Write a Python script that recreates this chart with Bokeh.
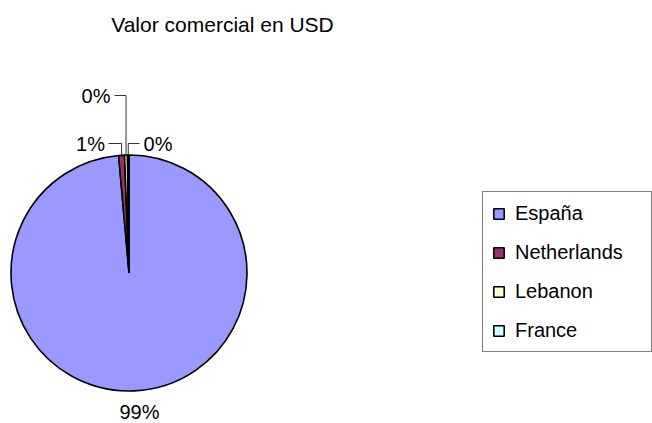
import math
from bokeh.plotting import figure
from bokeh.models import Range1d, ColumnDataSource, Legend, LegendItem
from bokeh.core.properties import value
from bokeh.embed import file_html
from bokeh.resources import INLINE

# ---- data ----
title = "Valor comercial en USD"
countries = ["España", "Netherlands", "Lebanon", "France"]
shares = [98.6, 0.8, 0.4, 0.2]
colors = ["#9999FF", "#993366", "#FFFFCC", "#CCFFFF"]

# ---- layout ----
W, H = 652, 423
def px(x):
    return x
def py(y):
    return H - y

CX, CY, R = px(128.5), py(272.5), 118
FONT = "Liberation Sans"
FS = "20px"

# label centres (page coords) and the x where each leader meets its label
label_pos = [(139, 411), (90, 143), (95.5, 95), (157.5, 143)]
leader_edge = [None, 108, 114, 139]

total = sum(shares)
starts, ends, mids = [], [], []
acc = 0.0
for s in shares:
    a0 = acc / total * 2 * math.pi
    acc += s
    a1 = acc / total * 2 * math.pi
    starts.append(math.pi / 2 - a0)
    ends.append(math.pi / 2 - a1)
    mids.append((a0 + a1) / 2)

labels = [f"{round(s / total * 100)}%" for s in shares]

p = figure(width=W, height=H, output_backend="svg", toolbar_location=None,
           x_range=Range1d(0, W), y_range=Range1d(0, H),
           x_axis_type=None, y_axis_type=None, min_border=0,
           outline_line_color=None)
p.grid.visible = False

src = ColumnDataSource(dict(country=countries, start=starts, end=ends, color=colors))
wr = p.wedge(x=CX, y=CY, radius=R, radius_units="screen",
             start_angle="start", end_angle="end", direction="clock",
             fill_color="color", line_color="black", line_width=1.6, source=src)

# leader lines
xs, ys = [], []
for i in range(1, len(shares)):
    ax = CX + R * math.sin(mids[i])
    ay = CY + R * math.cos(mids[i])
    lx, ly = label_pos[i]
    xs.append([ax, ax, px(leader_edge[i])])
    ys.append([ay, py(ly), py(ly)])
p.multi_line(xs=xs, ys=ys, line_color="#333333", line_width=1)

# data labels
p.text(x=[px(x) for x, _ in label_pos], y=[py(y) for _, y in label_pos], text=labels,
       text_align="center", text_baseline="middle",
       text_font=value(FONT), text_font_size=FS, text_color="black")

# title
p.text(x=[px(222)], y=[py(24)], text=[title], text_align="center", text_baseline="middle",
       text_font=value(FONT), text_font_size="21px", text_color="black")

legend = Legend(items=[LegendItem(label=c, renderers=[wr], index=i) for i, c in enumerate(countries)],
                location=(482, H - 352), orientation="vertical",
                border_line_color="black", border_line_width=1,
                background_fill_color="white", background_fill_alpha=1,
                padding=9, margin=0, spacing=15, label_height=24,
                glyph_height=13, glyph_width=13, label_standoff=10, label_width=127,
                label_text_font=FONT, label_text_font_size=FS, label_text_color="black")
p.add_layout(legend)

open("out.html", "w").write(file_html(p, INLINE))
